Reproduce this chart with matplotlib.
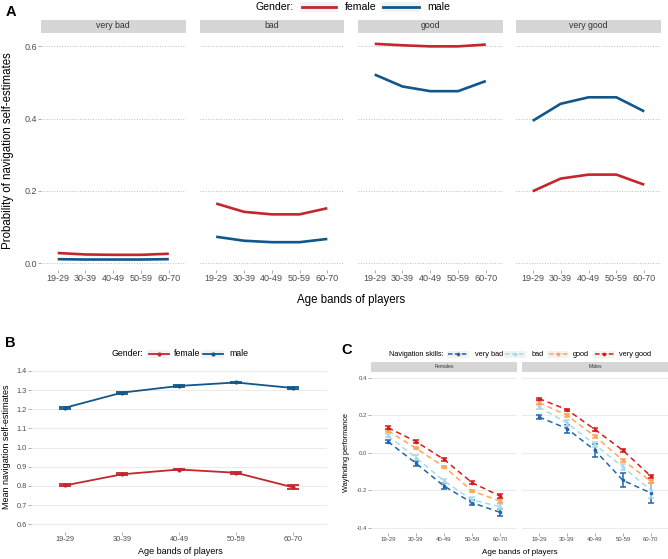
import numpy as np
import matplotlib.pyplot as plt
from matplotlib.lines import Line2D
from matplotlib.patches import Rectangle

plt.rcParams['font.family'] = ['Liberation Sans', 'DejaVu Sans']

ages = ['19-29', '30-39', '40-49', '50-59', '60-70']
skills = ['very bad', 'bad', 'good', 'very good']

# A: probability of each self-estimate (rows = skills, cols = age bands)
prob_female = [[0.028, 0.024, 0.023, 0.023, 0.026],
               [0.165, 0.142, 0.135, 0.135, 0.152],
               [0.607, 0.603, 0.600, 0.600, 0.605],
               [0.199, 0.234, 0.245, 0.245, 0.217]]
prob_male = [[0.011, 0.010, 0.010, 0.010, 0.011],
             [0.073, 0.062, 0.058, 0.058, 0.067],
             [0.522, 0.489, 0.476, 0.476, 0.504],
             [0.394, 0.441, 0.459, 0.459, 0.420]]

# B: mean self-estimates
mean_female = [0.803, 0.861, 0.886, 0.869, 0.793]
err_female = [0.005, 0.005, 0.005, 0.006, 0.010]
mean_male = [1.208, 1.287, 1.322, 1.340, 1.311]
err_male = [0.005, 0.005, 0.005, 0.005, 0.007]

# C: wayfinding performance (rows = skills)
wf_female = [[0.059, -0.057, -0.178, -0.267, -0.318],
             [0.089, -0.027, -0.151, -0.252, -0.288],
             [0.117, 0.023, -0.075, -0.204, -0.258],
             [0.133, 0.059, -0.036, -0.160, -0.231]]
wf_female_err = [[0.010, 0.012, 0.015, 0.012, 0.018],
                 [0.008, 0.012, 0.012, 0.014, 0.012],
                 [0.006, 0.006, 0.006, 0.006, 0.010],
                 [0.008, 0.008, 0.008, 0.008, 0.012]]
wf_male = [[0.190, 0.128, 0.012, -0.148, -0.215],
           [0.243, 0.158, 0.043, -0.077, -0.200],
           [0.267, 0.199, 0.087, -0.041, -0.153],
           [0.288, 0.229, 0.123, 0.012, -0.126]]
wf_male_err = [[0.012, 0.022, 0.035, 0.037, 0.055],
               [0.010, 0.018, 0.015, 0.015, 0.040],
               [0.008, 0.008, 0.008, 0.008, 0.008],
               [0.006, 0.006, 0.006, 0.006, 0.008]]

RED = '#C3262B'
BLUE = '#11578C'
skill_cols = ['#2166AC', '#ABD9E9', '#FDA65B', '#D7191C']
GREY_TXT = '#4D4D4D'

W, H = 668, 559
fig = plt.figure(figsize=(W / 100, H / 100), dpi=100)


def rect(l, t, r, b):
    return [l / W, 1 - b / H, (r - l) / W, (b - t) / H]


def style(ax, size, grid_ls='-', grid_col='#EBEBEB'):
    for s in ax.spines.values():
        s.set_visible(False)
    ax.tick_params(length=2, width=0.5, color='#8C8C8C', labelsize=size,
                   labelcolor=GREY_TXT, pad=1)
    ax.yaxis.grid(True, ls=grid_ls, color=grid_col, lw=0.7)
    ax.set_axisbelow(True)
    ax.set_xlim(-0.6, 4.6)
    ax.set_xticks(range(len(ages)))
    ax.set_xticklabels(ages)


def strip(l, t, r, b, label, size):
    s = fig.add_axes(rect(l, t, r, b))
    s.set_facecolor('#D6D6D6')
    s.set_xticks([])
    s.set_yticks([])
    for sp in s.spines.values():
        sp.set_visible(False)
    s.text(0.5, 0.5, label, ha='center', va='center', size=size, color='#333333')


def key(x0, x1, y, col, ls='-', lw=2, marker=None, ms=0, h=10):
    yf = 1 - y / H
    fig.add_artist(Rectangle((x0 / W, yf - h / 2 / H), (x1 - x0) / W, h / H,
                             transform=fig.transFigure, fc='#F2F2F2', ec='none'))
    fig.add_artist(Line2D([x0 / W + 1.5 / W, x1 / W - 1.5 / W], [yf, yf],
                          transform=fig.transFigure, color=col, lw=lw, ls=ls))
    if marker:
        fig.add_artist(Line2D([(x0 + x1) / 2 / W], [yf], transform=fig.transFigure,
                              color=col, marker=marker, ms=ms, ls='none'))


x = np.arange(len(ages))

# ---------------- panel A ----------------
facets = [(41, 185.5), (199.5, 344), (358, 502.5), (516, 661)]
for i, (l, r) in enumerate(facets):
    ax = fig.add_axes(rect(l, 33, r, 270))
    style(ax, 6.5, grid_ls=':', grid_col='#BDBDBD')
    ax.plot(x, prob_female[i], color=RED, lw=1.9, solid_capstyle='butt')
    ax.plot(x, prob_male[i], color=BLUE, lw=1.9, solid_capstyle='butt')
    ax.set_ylim(-0.019, 0.637)
    ax.set_yticks([0, 0.2, 0.4, 0.6])
    if i == 0:
        ax.set_yticklabels(['0.0', '0.2', '0.4', '0.6'])
    else:
        ax.tick_params(axis='y', length=0, labelleft=False)
    strip(l, 19.5, r, 32.5, skills[i], 6.3)

fig.text(11 / W, 1 - 12 / H, 'A', size=10.5, weight='bold', ha='center', va='center')
fig.text(8 / W, 1 - 151 / H, 'Probability of navigation self-estimates', rotation=90,
         ha='center', va='center', size=8.3)
fig.text(351 / W, 1 - 300 / H, 'Age bands of players', ha='center', va='center', size=8.3)
fig.text(255 / W, 1 - 7 / H, 'Gender:', ha='left', va='center', size=7.6)
key(300, 337, 7, RED, lw=2)
fig.text(345 / W, 1 - 7 / H, 'female', ha='left', va='center', size=7.6)
key(381, 420, 7, BLUE, lw=2)
fig.text(427 / W, 1 - 7 / H, 'male', ha='left', va='center', size=7.6)

# ---------------- panel B ----------------
axb = fig.add_axes(rect(30.8, 363.3, 327.2, 532))
style(axb, 5.3)
for m, e, c in [(mean_female, err_female, RED), (mean_male, err_male, BLUE)]:
    axb.errorbar(x, m, yerr=e, color=c, lw=1.3, capsize=4.5, capthick=1.3,
                 marker='o', ms=2)
axb.set_ylim(0.56, 1.44)
axb.set_yticks(np.arange(0.6, 1.41, 0.1))
axb.set_yticklabels(['%.1f' % v for v in np.arange(0.6, 1.41, 0.1)])

fig.text(10 / W, 1 - 343 / H, 'B', size=10.5, weight='bold', ha='center', va='center')
fig.text(7 / W, 1 - 447 / H, 'Mean navigation self-estimates', rotation=90,
         ha='center', va='center', size=6.5)
fig.text(180 / W, 1 - 552 / H, 'Age bands of players', ha='center', va='center', size=6.5)
fig.text(111 / W, 1 - 354 / H, 'Gender:', ha='left', va='center', size=6.3)
key(147, 170, 354, RED, lw=1.3, marker='o', ms=2, h=8)
fig.text(174 / W, 1 - 354 / H, 'female', ha='left', va='center', size=6.3)
key(201, 224, 354, BLUE, lw=1.3, marker='o', ms=2, h=8)
fig.text(229 / W, 1 - 354 / H, 'male', ha='left', va='center', size=6.3)

# ---------------- panel C ----------------
dash = (0, (3.5, 2.5))
for j, (l, r, vals, errs, lab) in enumerate([(371.2, 516.8, wf_female, wf_female_err, 'Females'),
                                             (522.3, 667.7, wf_male, wf_male_err, 'Males')]):
    ax = fig.add_axes(rect(l, 372, r, 533.3))
    style(ax, 4.3)
    for k in range(len(skills)):
        ax.errorbar(x, vals[k], yerr=errs[k], color=skill_cols[k], lw=1.1, ls=dash,
                    capsize=2.3, capthick=1.1, elinewidth=1.1, marker='o', ms=1.6)
    ax.set_ylim(-0.43, 0.43)
    ax.set_yticks([-0.4, -0.2, 0, 0.2, 0.4])
    if j == 0:
        ax.set_yticklabels(['-0.4', '-0.2', '0.0', '0.2', '0.4'])
    else:
        ax.tick_params(axis='y', length=0, labelleft=False)
    strip(l, 362, r, 371.5, lab, 3.6)

fig.text(347 / W, 1 - 350 / H, 'C', size=10.5, weight='bold', ha='center', va='center')
fig.text(346 / W, 1 - 452 / H, 'Wayfinding performance', rotation=90,
         ha='center', va='center', size=5.3)
fig.text(520 / W, 1 - 553 / H, 'Age bands of players', ha='center', va='center', size=5.8)
fig.text(389 / W, 1 - 354 / H, 'Navigation skills:', ha='left', va='center', size=5.3)
key_x = [(447, 469, 475), (504, 526, 532), (547, 569, 573), (593, 615, 619)]
for k, (x0, x1, tx) in enumerate(key_x):
    key(x0, x1, 354, skill_cols[k], ls=(0, (3, 1.5)), lw=1.1, marker='o', ms=1.6, h=7)
    fig.text(tx / W, 1 - 354 / H, skills[k], ha='left', va='center', size=5.3)

fig.savefig('out.png', dpi=100)
